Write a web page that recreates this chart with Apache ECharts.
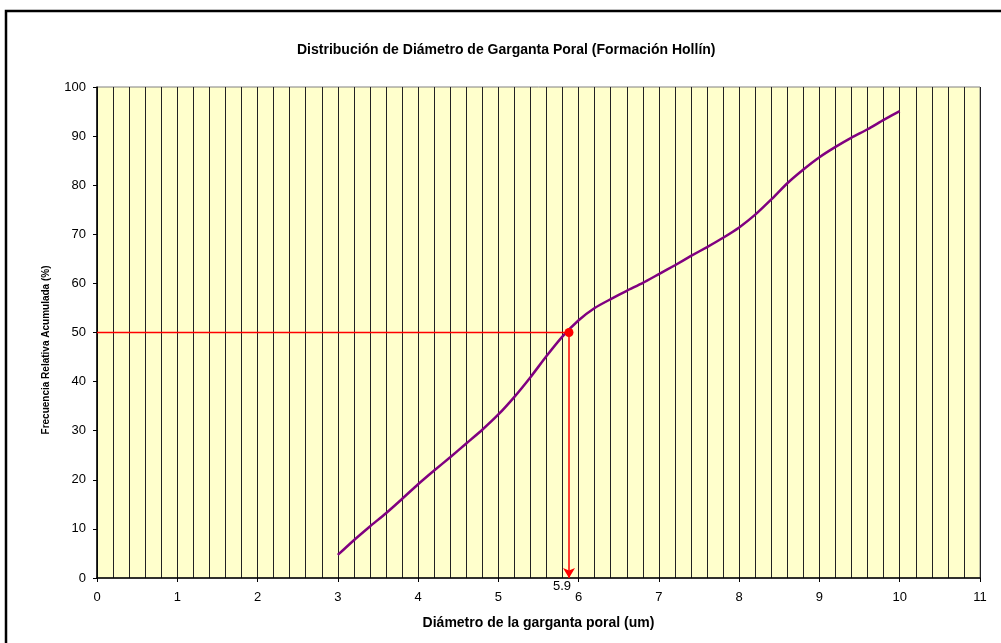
<!DOCTYPE html>
<html>
<head>
<meta charset="utf-8">
<script src="https://cdn.jsdelivr.net/npm/echarts@6/dist/echarts.min.js"></script>
<style>
  html, body { margin: 0; padding: 0; background: #fff; }
  #chart { width: 1001px; height: 643px; }
</style>
</head>
<body>
<div id="chart"></div>
<script>
'use strict'
// diametro (um) vs frecuencia relativa acumulada (%)
var diametro = [3, 3.2, 3.4, 3.6, 3.8, 4, 4.2, 4.4, 4.6, 4.8, 5, 5.2, 5.4, 5.6, 5.8, 6,
  6.2, 6.4, 6.6, 6.8, 7, 7.2, 7.4, 7.6, 7.8, 8, 8.2, 8.4, 8.6, 8.8, 9, 9.2, 9.4, 9.6, 9.8, 10]
var frecuencia = [4.7, 7.7, 10.5, 13.2, 16.1, 19.1, 21.9, 24.6, 27.4, 30.2, 33.3, 36.9, 40.9, 45.2, 49.2, 52.5,
  55.0, 56.8, 58.5, 60.1, 61.9, 63.7, 65.6, 67.4, 69.3, 71.4, 74.0, 77.1, 80.4, 83.2, 85.7, 87.8, 89.7, 91.4, 93.3, 95.1]
var d50 = 5.88
var p50 = 50
var d50Label = '5.9'

var curva = diametro.map(function(d, i) { return [d, frecuencia[i]] })

var chart = echarts.init(document.getElementById('chart'))
var font = 'Liberation Sans, Arial, sans-serif'

chart.setOption({
  animation: false,
  textStyle: { fontFamily: font },
  title: {
    text: 'Distribución de Diámetro de Garganta Poral (Formación Hollín)',
    left: 292,
    top: 38,
    textStyle: { fontSize: 14, fontWeight: 'bold', color: '#000', fontFamily: font }
  },
  graphic: [
    {
      type: 'rect',
      shape: { x: 6, y: 11, width: 1010, height: 650 },
      style: { fill: 'none', stroke: '#000', lineWidth: 2.5 },
      z: 100
    },
    {
      type: 'text',
      x: 46,
      y: 350,
      rotation: Math.PI / 2,
      style: {
        text: 'Frecuencia Relativa Acumulada (%)',
        fontSize: 10,
        fontWeight: 'bold',
        fontFamily: font,
        fill: '#000',
        align: 'center',
        verticalAlign: 'middle'
      }
    }
  ],
  grid: {
    left: 97,
    right: 21,
    top: 87,
    bottom: 65,
    show: true,
    backgroundColor: '#ffffcc',
    borderColor: '#808080',
    borderWidth: 1
  },
  xAxis: {
    type: 'value',
    min: 0,
    max: 11,
    interval: 1,
    name: 'Diámetro de la garganta poral (um)',
    nameLocation: 'middle',
    nameGap: 38,
    nameTextStyle: { fontSize: 14, fontWeight: 'bold', color: '#000', fontFamily: font },
    axisLine: { lineStyle: { color: '#000', width: 1.5 } },
    axisTick: { show: true, length: 4, lineStyle: { color: '#000' } },
    axisLabel: { fontSize: 13, color: '#000', margin: 13, fontFamily: font },
    splitLine: { show: true, lineStyle: { color: '#222', width: 1 } },
    minorTick: { show: false, splitNumber: 5 },
    minorSplitLine: { show: true, lineStyle: { color: '#222', width: 1 } }
  },
  yAxis: {
    type: 'value',
    min: 0,
    max: 100,
    interval: 10,
    axisLine: { show: true, lineStyle: { color: '#000', width: 1.5 } },
    axisTick: { show: true, length: 4, lineStyle: { color: '#000' } },
    axisLabel: { fontSize: 13, color: '#000', margin: 11, fontFamily: font },
    splitLine: { show: false }
  },
  series: [
    {
      name: 'curva',
      type: 'line',
      data: curva,
      showSymbol: false,
      smooth: 0.2,
      lineStyle: { color: '#800080', width: 2.5 },
      z: 3
    },
    {
      name: 'p50',
      type: 'line',
      data: [[0, p50], [d50, p50]],
      showSymbol: false,
      lineStyle: { color: '#ff0000', width: 1.5 },
      markLine: {
        silent: true,
        symbol: ['none', 'arrow'],
        symbolSize: [9, 10],
        label: { show: false },
        lineStyle: { color: '#ff0000', width: 1.5, type: 'solid' },
        data: [[{ coord: [d50, p50] }, { coord: [d50, 0] }]]
      },
      z: 4
    },
    {
      name: 'punto',
      type: 'scatter',
      data: [[d50, p50]],
      symbolSize: 9,
      itemStyle: { color: '#ff0000', opacity: 1 },
      z: 5
    },
    {
      name: 'etiqueta',
      type: 'scatter',
      data: [[d50, 0]],
      symbolSize: 0,
      itemStyle: { color: '#000', opacity: 1 },
      label: {
        show: true,
        position: 'bottom',
        distance: 2,
        offset: [-7, 0],
        formatter: d50Label,
        fontSize: 13,
        color: '#000',
        opacity: 1,
        fontFamily: font
      },
      z: 5
    }
  ]
})
</script>
</body>
</html>
